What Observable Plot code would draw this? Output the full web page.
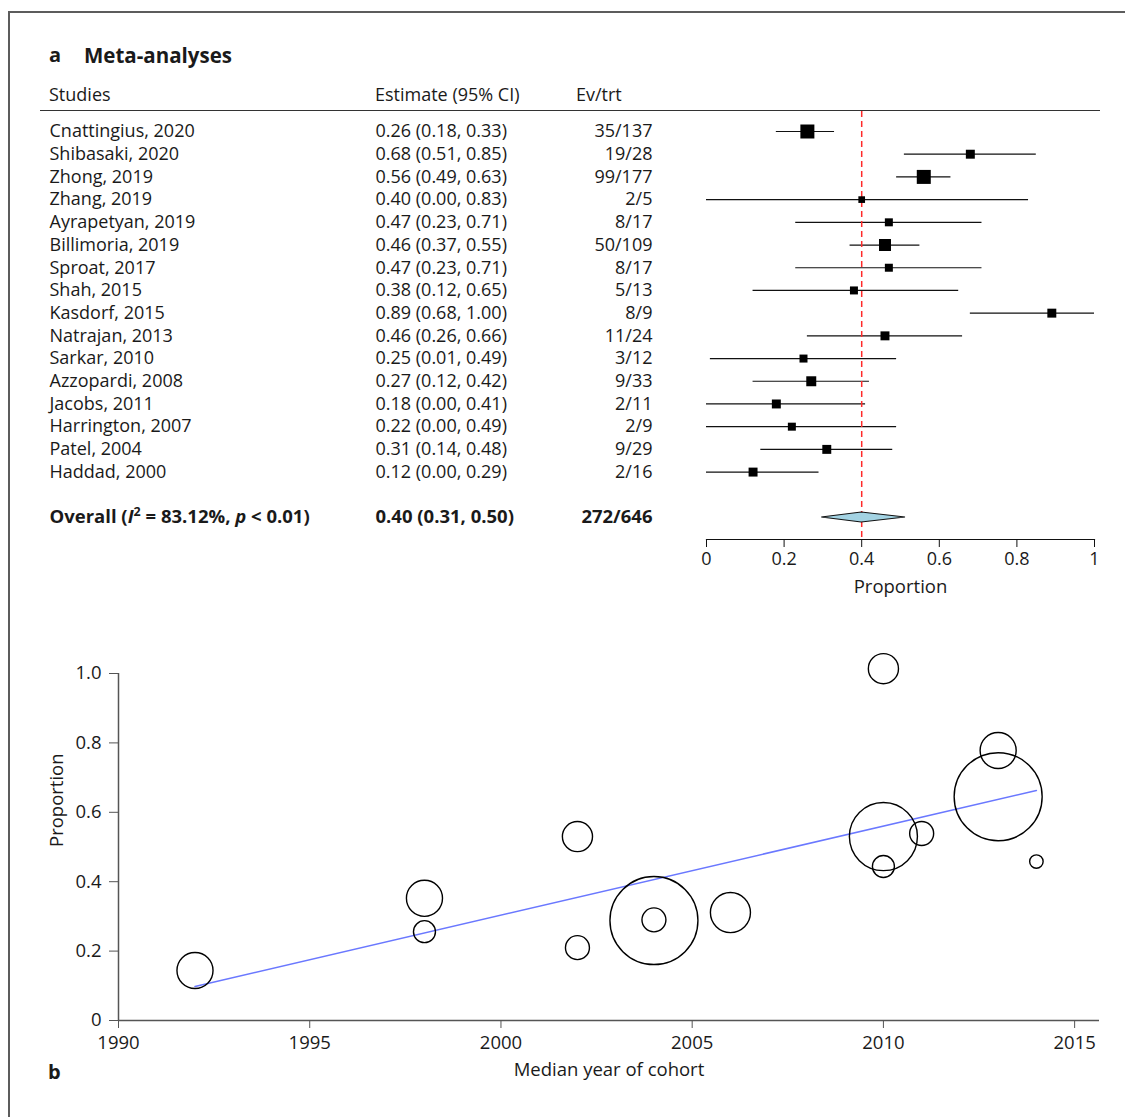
<!DOCTYPE html>
<html><head><meta charset="utf-8">
<script src="https://cdn.jsdelivr.net/npm/d3@7"></script>
<script src="https://cdn.jsdelivr.net/npm/@observablehq/plot@0.6"></script>
<style>
body{margin:0;background:#fff;}
#fig{position:relative;width:1125px;height:1117px;overflow:hidden;font-family:"Open Sans",sans-serif;color:#1a1a1a;background:#fff;}
.abs{position:absolute;white-space:nowrap;line-height:1;}
#fig svg{position:absolute;left:0;}
</style></head><body><div id="fig"></div>
<script>
// ---------- Panel a: forest plot data ----------
const studies = ["Cnattingius, 2020","Shibasaki, 2020","Zhong, 2019","Zhang, 2019","Ayrapetyan, 2019","Billimoria, 2019","Sproat, 2017","Shah, 2015","Kasdorf, 2015","Natrajan, 2013","Sarkar, 2010","Azzopardi, 2008","Jacobs, 2011","Harrington, 2007","Patel, 2004","Haddad, 2000"];
const estimates = [0.26,0.68,0.56,0.40,0.47,0.46,0.47,0.38,0.89,0.46,0.25,0.27,0.18,0.22,0.31,0.12];
const ciLower   = [0.18,0.51,0.49,0.00,0.23,0.37,0.23,0.12,0.68,0.26,0.01,0.12,0.00,0.00,0.14,0.00];
const ciUpper   = [0.33,0.85,0.63,0.83,0.71,0.55,0.71,0.65,1.00,0.66,0.49,0.42,0.41,0.49,0.48,0.29];
const events    = [35,19,99,2,8,50,8,5,8,11,3,9,2,2,9,2];
const totals    = [137,28,177,5,17,109,17,13,9,24,12,33,11,9,29,16];
const studyWeights = [13.2,5.4,13.2,3.0,4.3,9.7,4.3,4.3,5.4,5.4,4.3,6.7,5.4,4.3,5.4,5.4];
const overallName = "Overall";
const overallI2 = "83.12%";
const overallP = "< 0.01";
const overallEst = 0.40, overallLo = 0.31, overallHi = 0.50;
const overallEvents = 272, overallTotal = 646;
const forestTicks = [0,0.2,0.4,0.6,0.8,1];

// ---------- Panel b: meta-regression bubble data ----------
const cohortYear       = [1992,1998,1998,2002,2002,2004,2004,2006,2010,2010,2010,2011,2013,2013,2014];
const cohortProportion = [0.144,0.352,0.256,0.530,0.210,0.288,0.290,0.311,1.014,0.530,0.444,0.539,0.778,0.645,0.458];
const cohortWeight     = [4.3,4.3,1.6,3.0,1.9,25.6,1.9,5.3,3.0,15.3,1.6,1.9,4.3,25.6,0.6];
const fitYear       = [1992,2014];
const fitProportion = [0.098,0.663];
const yearTicks = [1990,1995,2000,2005,2010,2015];
const propTicks = [0,0.2,0.4,0.6,0.8,1.0];

const FONT = '"Open Sans", sans-serif';
const FS = 18;
const fig = document.getElementById("fig");
function addText(txt, left, top, css) {
  const d = document.createElement("div");
  d.className = "abs"; d.textContent = txt;
  d.style.left = left + "px"; d.style.top = top + "px";
  Object.assign(d.style, css || {});
  fig.appendChild(d); return d;
}
// frame lines
const fr = document.createElement("div");
Object.assign(fr.style,{position:"absolute",left:"8px",top:"11px",width:"1200px",height:"1200px",borderTop:"2px solid #5c5c5c",borderLeft:"2px solid #5c5c5c"});
fig.appendChild(fr);
// titles / header
addText("a", 49, 45, {fontWeight:"700", fontSize:"20px"});
addText("Meta-analyses", 84, 45, {fontWeight:"700", fontSize:"20.5px"});
addText("Studies", 49, 85, {fontSize:FS+"px"});
addText("Estimate (95% CI)", 375, 85, {fontSize:FS+"px"});
addText("Ev/trt", 576, 85, {fontSize:FS+"px"});
const hr = document.createElement("div");
Object.assign(hr.style,{position:"absolute",left:"40px",top:"110px",width:"1060px",height:"0",borderTop:"1.5px solid #333"});
fig.appendChild(hr);
addText("b", 48, 1062, {fontWeight:"700", fontSize:"20px"});

// ---------- Panel a ----------
const rows = studies.map((s,i)=>({study:s, est:estimates[i], lo:ciLower[i], hi:ciUpper[i], ev:events[i], n:totals[i], w:studyWeights[i]}));
const yDomain = [...studies, " ", overallName];
const overallRow = [{study:overallName, est:overallEst, lo:overallLo, hi:overallHi, ev:overallEvents, n:overallTotal}];
const fmt = v => v.toFixed(2);

const diamond = (index, scales) => {
  const x = scales.x, y = scales.y;
  const cy = y(overallName);
  return d3.create("svg:path")
    .attr("d", `M${x(overallLo)-5},${cy}L${x(overallEst)},${cy-5}L${x(overallHi)+5},${cy}L${x(overallEst)},${cy+5}Z`)
    .attr("fill","#a3d3e3").attr("stroke","#111").attr("stroke-width",1.2).node();
};

const plotA = Plot.plot({
  width:1125, height:620,
  marginLeft:706, marginRight:31, marginTop:111, marginBottom:81,
  x:{domain:[0,1]},
  y:{type:"point", domain:yDomain, range:[131,517], padding:0, round:false, axis:null},
  r:{type:"sqrt", domain:[0,13.2], range:[0,7.9]},
  style:{fontFamily:FONT, fontSize:FS+"px", color:"#1a1a1a", background:"transparent", overflow:"visible"},
  marks:[
    Plot.ruleY(rows,{y:"study", x1:"lo", x2:"hi", stroke:"#111", strokeWidth:1.2}),
    Plot.ruleX([overallEst],{stroke:"#ff2a2a", strokeWidth:1.5, strokeDasharray:"6,4"}),
    Plot.dot(rows,{x:"est", y:"study", r:"w", symbol:"square", fill:"#000", stroke:null}),
    diamond,
    Plot.text(rows,{y:"study", text:"study", frameAnchor:"left", dx:-657, textAnchor:"start", fontSize:FS}),
    Plot.text(rows,{y:"study", text:d=>`${fmt(d.est)} (${fmt(d.lo)}, ${fmt(d.hi)})`, frameAnchor:"left", dx:-331, textAnchor:"start", fontSize:FS}),
    Plot.text(rows,{y:"study", text:d=>`${d.ev}/${d.n}`, frameAnchor:"left", dx:-54, textAnchor:"end", fontSize:FS}),
    Plot.text(overallRow,{y:"study", text:d=>`${d.study} (I2 = ${overallI2}, p ${overallP})`, frameAnchor:"left", dx:-657, textAnchor:"start", fontWeight:"bold", fontSize:18.5}),
    Plot.text(overallRow,{y:"study", text:d=>`${fmt(d.est)} (${fmt(d.lo)}, ${fmt(d.hi)})`, frameAnchor:"left", dx:-331, textAnchor:"start", fontWeight:"bold", fontSize:18.5}),
    Plot.text(overallRow,{y:"study", text:d=>`${d.ev}/${d.n}`, frameAnchor:"left", dx:-54, textAnchor:"end", fontWeight:"bold", fontSize:18.5}),
    Plot.frame({anchor:"bottom", stroke:"#111", strokeWidth:1.2}),
    Plot.axisX({ticks:forestTicks, tickFormat:d=>String(d), tickSize:8, tickPadding:5, label:null, stroke:"#111", fontSize:18}),
    Plot.text(["Proportion"],{frameAnchor:"bottom", dy:53, text:d=>d, fontSize:18.5})
  ]
});
plotA.style.top = "0px";
fig.appendChild(plotA);
// rich formatting for overall label
d3.select(plotA).selectAll("text").each(function(){
  if (this.textContent.startsWith(overallName + " (")) {
    const t = d3.select(this); t.text("");
    t.append("tspan").text(overallName + " (");
    t.append("tspan").attr("font-style","italic").text("I");
    t.append("tspan").attr("font-size","12.5px").attr("dy","-7").text("2");
    t.append("tspan").attr("dy","7").text(` = ${overallI2}, `);
    t.append("tspan").attr("font-style","italic").text("p");
    t.append("tspan").text(` ${overallP})`);
  }
});

// ---------- Panel b ----------
const bubbles = cohortYear.map((y,i)=>({year:y, prop:cohortProportion[i], w:cohortWeight[i]}));
const fit = fitYear.map((y,i)=>({year:y, prop:fitProportion[i]}));
const plotB = Plot.plot({
  width:1125, height:497,
  marginLeft:118, marginRight:26, marginTop:53, marginBottom:97,
  x:{domain:[1990,2015.65]},
  y:{domain:[0,1]},
  r:{type:"sqrt", domain:[0,25.6], range:[0,44]},
  style:{fontFamily:FONT, fontSize:FS+"px", color:"#1a1a1a", background:"transparent", overflow:"visible"},
  marks:[
    Plot.ruleX([1990],{y1:0, y2:1, stroke:"#555", strokeWidth:1.5}),
    Plot.ruleY([0],{x1:1990, x2:2015.65, stroke:"#555", strokeWidth:1.5}),
    Plot.axisY({ticks:propTicks, tickFormat:d=>d===0?"0":d.toFixed(1), tickSize:9, tickPadding:8, label:null, stroke:"#555", fontSize:18.5}),
    Plot.axisX({ticks:yearTicks, tickFormat:d=>String(d), tickSize:8, tickPadding:7, label:null, stroke:"#555", fontSize:18.5}),
    Plot.line(fit,{x:"year", y:"prop", stroke:"#6a78ff", strokeWidth:1.5}),
    Plot.dot(bubbles,{x:"year", y:"prop", r:"w", stroke:"#000", strokeWidth:1.4, fill:"none"}),
    Plot.text(["Median year of cohort"],{frameAnchor:"bottom", dy:55, text:d=>d, fontSize:18.5}),
    Plot.text(["Proportion"],{frameAnchor:"left", dx:-61, rotate:-90, text:d=>d, fontSize:18.5})
  ]
});
plotB.style.top = "620px";
fig.appendChild(plotB);
</script></body></html>
